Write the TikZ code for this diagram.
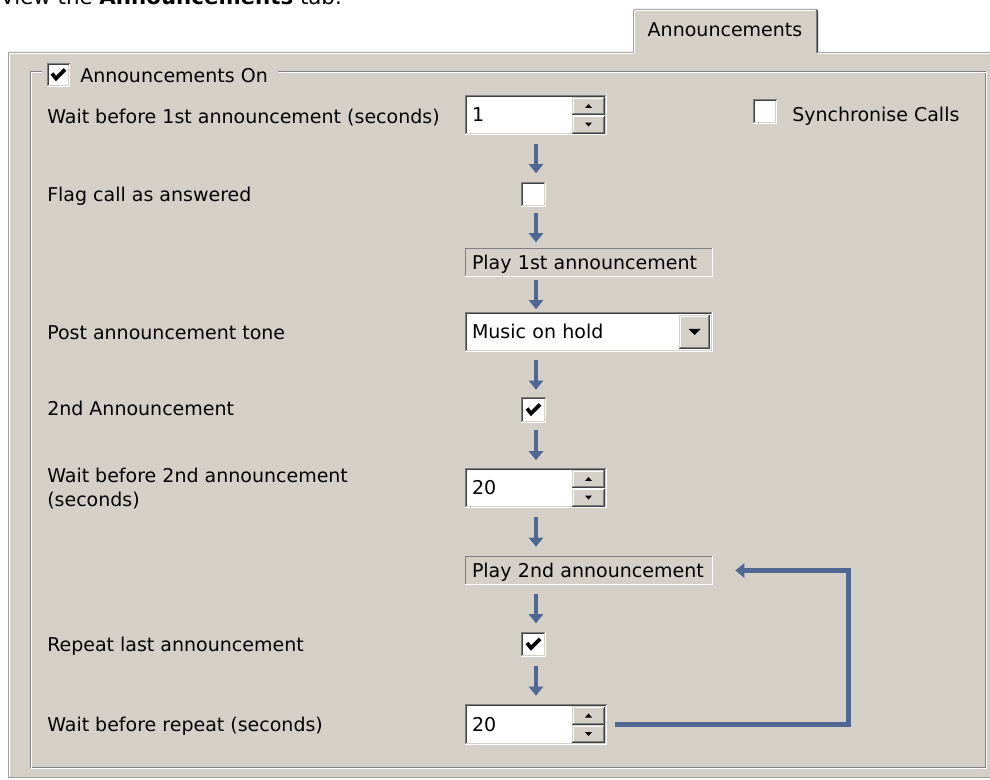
\documentclass[tikz,border=0pt]{standalone}
\usepackage{fontspec}
\setmainfont{DejaVu Sans}
\usepackage{tikz}
\usetikzlibrary{arrows.meta,positioning}

\definecolor{panel}{RGB}{212,208,200}
\definecolor{shadow}{RGB}{128,128,128}
\definecolor{dkshadow}{RGB}{64,64,64}
\definecolor{edgegray}{RGB}{160,160,160}
\definecolor{flowblue}{RGB}{79,103,146}

\tikzset{
  lbl/.style={anchor=west, inner sep=0pt, text height=10.4pt, text depth=0pt},
  field/.style={fill=white, inner sep=0pt, inner xsep=5.25pt, text width=96pt, minimum height=30pt, text height=10.4pt, text depth=0pt},
  statbox/.style={fill=panel, inner sep=0pt, inner xsep=5.25pt, text width=175.5pt, minimum height=21.75pt, text height=10.4pt, text depth=0pt},
  combo/.style={statbox, fill=white, minimum height=30pt},
  chk/.style={fill=white, inner sep=0pt, minimum size=18.75pt},
  btn/.style={fill=panel, inner sep=0pt, minimum width=24.75pt, minimum height=13.5pt},
  flow/.style={flowblue, line width=3pt, -{Triangle[width=10.5pt,length=6.75pt]}, shorten <=#1, shorten >=#1},
  back/.style={flowblue, line width=3.4pt, -{Triangle[width=10.5pt,length=6.75pt]}, shorten <=6pt, shorten >=16.5pt},
}

% bevel edges, one pixel is one unit
\newcommand\bevelin[1]{%
  \draw[shadow, line width=0.75pt] ([shift={(0.5,-0.5)}]#1.south west) -- ([shift={(0.5,0.5)}]#1.north west) -- ([shift={(-0.5,0.5)}]#1.north east);
  \draw[dkshadow, line width=0.75pt] ([shift={(1.5,-1.5)}]#1.south west) -- ([shift={(1.5,1.5)}]#1.north west) -- ([shift={(-1.5,1.5)}]#1.north east);
  \draw[white, line width=0.75pt] ([shift={(0.5,-0.5)}]#1.south west) -- ([shift={(-0.5,-0.5)}]#1.south east) -- ([shift={(-0.5,0.5)}]#1.north east);
  \draw[panel, line width=0.75pt] ([shift={(1.5,-1.5)}]#1.south west) -- ([shift={(-1.5,-1.5)}]#1.south east) -- ([shift={(-1.5,1.5)}]#1.north east);
}
\newcommand\bevelout[1]{%
  \draw[white, line width=0.75pt] ([shift={(1.5,-1.5)}]#1.south west) -- ([shift={(1.5,1.5)}]#1.north west) -- ([shift={(-1.5,1.5)}]#1.north east);
  \draw[dkshadow, line width=0.75pt] ([shift={(0.5,-0.5)}]#1.south west) -- ([shift={(-0.5,-0.5)}]#1.south east) -- ([shift={(-0.5,0.5)}]#1.north east);
  \draw[shadow, line width=0.75pt] ([shift={(1.5,-1.5)}]#1.south west) -- ([shift={(-1.5,-1.5)}]#1.south east) -- ([shift={(-1.5,1.5)}]#1.north east);
}
\newcommand\bevelthin[1]{%
  \draw[shadow, line width=0.75pt] ([shift={(0.5,-0.5)}]#1.south west) -- ([shift={(0.5,0.5)}]#1.north west) -- ([shift={(-0.5,0.5)}]#1.north east);
  \draw[white, line width=0.75pt] ([shift={(0.5,-0.5)}]#1.south west) -- ([shift={(-0.5,-0.5)}]#1.south east) -- ([shift={(-0.5,0.5)}]#1.north east);
}
\newcommand\tickmark[1]{%
  \draw[line width=2.7pt] ([shift={(-6.5,-1.5)}]#1.center) -- ([shift={(-2.5,3.5)}]#1.center) -- ([shift={(6.5,-5.5)}]#1.center);
}

\begin{document}
\begin{tikzpicture}[x=0.75pt, y=-0.75pt, font=\fontsize{14.25}{17}\selectfont]
\useasboundingbox (0,0) rectangle (990,780);
\fill[white] (0,0) rectangle (990,780);

\node[anchor=base west, inner sep=0pt, font=\fontsize{16}{19}\selectfont] (intro) at (0,4.5) {View the \textbf{Announcements} tab.};

% tab page and its tab
\fill[panel] (8,52) rectangle (1000,778);
\fill[panel] (633,53) -- (633,11) -- (635,9) -- (816,9) -- (818,11) -- (818,53) -- cycle;
\draw[edgegray, line width=0.75pt] (8.5,778) -- (8.5,52.5) -- (633.5,52.5) -- (633.5,11) -- (635.5,9.5) -- (816,9.5);
\draw[white, line width=0.75pt] (9.5,777) -- (9.5,53.5) -- (634.5,53.5) -- (634.5,11.5) -- (636,10.5) -- (815.5,10.5);
\draw[dkshadow, line width=0.75pt] (816,9.5) -- (817.5,11) -- (817.5,52.5);
\draw[shadow, line width=0.75pt] (816.5,11.5) -- (816.5,53);
\draw[edgegray, line width=0.75pt] (818,52.5) -- (1000,52.5);
\draw[white, line width=0.75pt] (818,53.5) -- (1000,53.5);
\draw[edgegray, line width=0.75pt] (8,777.5) -- (1000,777.5);
\node[inner sep=0pt] (tabtext) at (725,30) {Announcements};

% group box
\draw[shadow, line width=0.75pt] (42,71.5) -- (30.5,71.5) -- (30.5,767.5) -- (985.5,767.5) -- (985.5,71.5) -- (278,71.5);
\draw[white, line width=0.75pt] (42,72.5) -- (31.5,72.5) -- (31.5,768.5) -- (986.5,768.5) -- (986.5,72.5) -- (278,72.5);
\node[chk, minimum size=17.25pt] (aon) at (58.5,75) {};
\node[lbl] (aontext) at (80,76) {Announcements On};
\node[chk, minimum size=18pt] (sync) at (765,111.5) {};
\node[lbl] (synctext) at (792,115) {Synchronise Calls};

% labels
\node[lbl] (waitA) at (47,117) {Wait before 1st announcement (seconds)};
\node[lbl] (flag) at (47,195) {Flag call as answered};
\node[lbl] (tone) at (47,333) {Post announcement tone};
\node[lbl] (second) at (47,409) {2nd Announcement};
\node[lbl] (waitB) at (47,476) {Wait before 2nd announcement};
\node[lbl] (waitBsec) at (47,500) {(seconds)};
\node[lbl] (repeat) at (47,645) {Repeat last announcement};
\node[lbl] (waitC) at (47,725) {Wait before repeat (seconds)};

% controls
\node[field] (spinA) at (536,115) {1};
\node[chk] (chkA) at (533.5,194.5) {};
\node[statbox] (playA) at (589,262.5) {Play 1st announcement};
\node[combo] (tonebox) at (589,332) {Music on hold};
\node[chk] (chkB) at (533.5,410) {};
\node[field] (spinB) at (536,488) {20};
\node[statbox] (playB) at (589,570.5) {Play 2nd announcement};
\node[chk] (chkC) at (533.5,644.5) {};
\node[field] (spinC) at (536,724.5) {20};

\bevelin{aon} \bevelin{sync}
\bevelin{chkA} \bevelin{chkB} \bevelin{chkC}
\bevelin{spinA} \bevelin{spinB} \bevelin{spinC} \bevelin{tonebox}
\bevelthin{playA} \bevelthin{playB}
\tickmark{aon} \tickmark{chkB} \tickmark{chkC}

\foreach \s in {spinA,spinB,spinC}{
  \node[btn, anchor=north east] (\s-up) at ([shift={(-2,2)}]\s.north east) {};
  \node[btn, anchor=north] (\s-dn) at (\s-up.south) {};
  \bevelout{\s-up} \bevelout{\s-dn}
  \fill ([shift={(-3.5,2)}]\s-up.center) -- ([shift={(3.5,2)}]\s-up.center) -- ([shift={(0,-2)}]\s-up.center) -- cycle;
  \fill ([shift={(-3.5,-2)}]\s-dn.center) -- ([shift={(3.5,-2)}]\s-dn.center) -- ([shift={(0,2)}]\s-dn.center) -- cycle;
}
\node[btn, anchor=north east, minimum width=23.25pt, minimum height=25.5pt] (drop) at ([shift={(-3,3)}]tonebox.north east) {};
\bevelout{drop}
\fill ([shift={(-6,-3)}]drop.center) -- ([shift={(6,-3)}]drop.center) -- ([shift={(0,3)}]drop.center) -- cycle;

% flow
\coordinate (col) at (536,0);
\draw[flow=6.375pt] (spinA.south -| col) -- (chkA.north -| col);
\draw[flow=4.125pt] (chkA.south -| col) -- (playA.north -| col);
\draw[flow=1.875pt] (playA.south -| col) -- (tonebox.north -| col);
\draw[flow=5.625pt] (tonebox.south -| col) -- (chkB.north -| col);
\draw[flow=5.625pt] (chkB.south -| col) -- (spinB.north -| col);
\draw[flow=6.75pt] (spinB.south -| col) -- (playB.north -| col);
\draw[flow=6.375pt] (playB.south -| col) -- (chkC.north -| col);
\draw[flow=6.375pt] (chkC.south -| col) -- (spinC.north -| col);

\coordinate (turn) at (848.5,570.5);
\draw[back] (spinC.east) -| (turn) -- (playB.east);
\end{tikzpicture}
\end{document}
